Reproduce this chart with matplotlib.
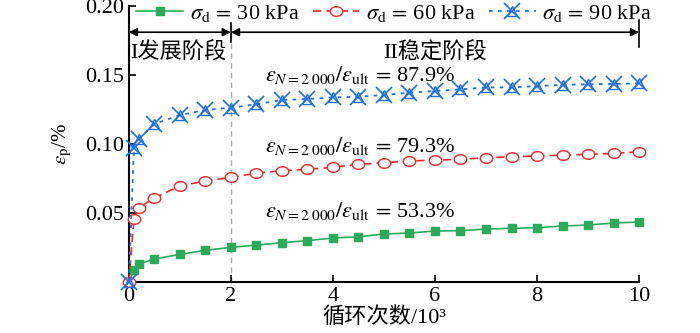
import numpy as np
import matplotlib
matplotlib.use("Agg")
import matplotlib.pyplot as plt
from matplotlib.path import Path

plt.rcParams['font.family'] = ['Liberation Serif', 'Noto Sans CJK SC']
plt.rcParams['mathtext.fontset'] = 'stix'

# cycles (x 10^3)
cycles = [0, 0.1, 0.2, 0.5, 1.0, 1.5, 2.0, 2.5, 3.0, 3.5, 4.0, 4.5, 5.0, 5.5,
          6.0, 6.5, 7.0, 7.5, 8.0, 8.5, 9.0, 9.5, 10.0]
eps_30 = [0, 0.0087, 0.013, 0.0167, 0.020, 0.023, 0.0251, 0.0268, 0.0285, 0.030,
          0.0319, 0.0328, 0.0348, 0.0355, 0.037, 0.0372, 0.0384, 0.0389, 0.0394,
          0.0406, 0.0413, 0.0428, 0.0435]
eps_60 = [0, 0.0454, 0.0538, 0.061, 0.0696, 0.0732, 0.0759, 0.0788, 0.0807, 0.0817,
          0.0831, 0.0853, 0.0864, 0.0877, 0.0884, 0.0889, 0.0901, 0.0908, 0.0913,
          0.092, 0.0925, 0.0932, 0.0944]
eps_90 = [0, 0.0969, 0.104, 0.1145, 0.121, 0.1246, 0.1263, 0.1288, 0.1319, 0.1326,
          0.1338, 0.1343, 0.1355, 0.1372, 0.1384, 0.1396, 0.141, 0.141, 0.142,
          0.1428, 0.1433, 0.1435, 0.144]
ratios = ["87.9%", "79.3%", "53.3%"]
ratio_y = [0.150, 0.0986, 0.0514]

green = "#2bab5a"
red = "#f0282d"
blue = "#1f6fe0"

# flattened ellipse marker for the 60 kPa series
t = np.linspace(0, 2 * np.pi, 40)
ellipse = Path(np.column_stack([1.3 * np.cos(t), np.sin(t)]), closed=True)

fig = plt.figure(figsize=(7, 3.33), dpi=100)
ax = fig.add_axes([0.184, 0.153, 0.729, 0.829])

l30, = ax.plot(cycles, eps_30, '-', color=green, lw=1.2, marker='s', ms=6,
               mfc=green, mec=green, clip_on=False, zorder=3)
l60, = ax.plot(cycles, eps_60, '--', color=red, lw=1.2, marker=ellipse, ms=9,
               mfc='white', mec=red, mew=1.0, dashes=(5, 3), clip_on=False, zorder=3)
l90, = ax.plot(cycles, eps_90, color=blue, lw=1.3, ls=(0, (2, 3)), marker='x', ms=11,
               mec=blue, mew=1.2, clip_on=False, zorder=4)
l90b, = ax.plot(cycles, eps_90, ls='none', marker='^', ms=7, mfc='none',
                mec=blue, mew=1.0, clip_on=False, zorder=4)

ax.set_xlim(0, 10)
ax.set_ylim(0, 0.2)
ax.set_xticks([0, 2, 4, 6, 8, 10])
ax.set_xticklabels(['0', '2', '4', '6', '8', '10'])
ax.set_yticks([0.05, 0.10, 0.15, 0.20])
ax.set_yticklabels(['0.05', '0.10', '0.15', '0.20'])
ax.tick_params(direction='in', length=5, width=1.2, labelsize=16)
ax.spines['top'].set_visible(False)
ax.spines['right'].set_visible(False)
ax.spines['left'].set_linewidth(1.5)
ax.spines['bottom'].set_linewidth(1.5)

ax.set_xlabel('循环次数/10³', fontsize=16, labelpad=1)
ax.set_ylabel(r'$\varepsilon_\mathrm{p}$/%', fontsize=15, labelpad=8)

# stage divider and arrows
ax.plot([2, 2], [0, 0.186], color='#aaaaaa', ls=(0, (4, 3)), lw=1.0, zorder=1)
arr_y = 0.181
ax.annotate('', xy=(0, arr_y), xytext=(2, arr_y),
            arrowprops=dict(arrowstyle='<|-|>', color='black', lw=1.2,
                            shrinkA=0, shrinkB=0, mutation_scale=12))
ax.annotate('', xy=(2, arr_y), xytext=(10, arr_y),
            arrowprops=dict(arrowstyle='<|-|>', color='black', lw=1.2,
                            shrinkA=0, shrinkB=0, mutation_scale=12))
ax.plot([2, 2], [0.174, 0.188], color='black', lw=1.2, clip_on=False)
ax.plot([10, 10], [0.17, 0.19], color='black', lw=1.2, clip_on=False)
ax.text(0.03, 0.166, 'I发展阶段', fontsize=16, ha='left', va='center')
ax.text(6.0, 0.166, 'II稳定阶段', fontsize=16, ha='center', va='center')

for r, y in zip(ratios, ratio_y):
    ax.text(2.67, y, r'$\varepsilon_{N=2\;000}/\varepsilon_\mathrm{ult}\,=\,$' + r,
            fontsize=16, ha='left', va='center')

ax.legend([l30, l60, (l90, l90b)],
          [r'$\sigma_\mathrm{d}\,=\,$30 kPa', r'$\sigma_\mathrm{d}\,=\,$60 kPa',
           r'$\sigma_\mathrm{d}\,=\,$90 kPa'],
          loc='center', bbox_to_anchor=(0.52, 0.972), ncol=3, frameon=False,
          fontsize=16, handlelength=2.1, columnspacing=0.6, handletextpad=0.3,
          borderaxespad=0)

fig.savefig('out.png', dpi=100)
